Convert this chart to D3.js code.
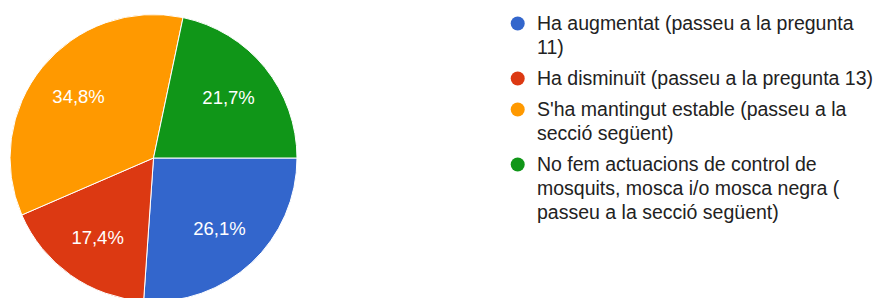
<!DOCTYPE html>
<html>
<head>
<meta charset="utf-8">
<script src="https://cdn.jsdelivr.net/npm/d3@7"></script>
<style>
  body { margin: 0; background: #fff; }
  svg text { font-family: "Liberation Sans", Arial, sans-serif; }
</style>
</head>
<body>
<svg id="chart" width="885" height="298"></svg>
<script>
var categories = [
  "Ha augmentat (passeu a la pregunta\n11)",
  "Ha disminuït (passeu a la pregunta 13)",
  "S'ha mantingut estable (passeu a la\nsecció següent)",
  "No fem actuacions de control de\nmosquits, mosca i/o mosca negra (\npasseu a la secció següent)"
];
var values = [26.1, 17.4, 34.8, 21.7];
var colors = ["#3366cc", "#dc3912", "#ff9900", "#109618"];

var svg = d3.select("svg#chart"),
  cx = 153.5, cy = 158, radius = 143.5;

var data = categories.map(function(c, i){ return {name: c, value: values[i], color: colors[i]}; });

// PIE
var pie = d3.pie()
  .sort(null)
  .value(function(d){ return d.value; })
  .startAngle(Math.PI / 2)
  .endAngle(Math.PI / 2 + 2 * Math.PI);

var arc = d3.arc().innerRadius(0).outerRadius(radius);
var labelArc = d3.arc().innerRadius(radius * 0.674).outerRadius(radius * 0.674);

var g = svg.append("g").attr("transform", "translate(" + cx + "," + cy + ")");

var slices = g.selectAll("g.slice")
  .data(pie(data))
  .enter().append("g").attr("class", "slice");

slices.append("path")
  .attr("d", arc)
  .attr("fill", function(d){ return d.data.color; })
  .attr("stroke", "#fff")
  .attr("stroke-width", 1);

var fmt = function(v){ return d3.format(".1f")(v).replace(".", ",") + "%"; };

slices.append("text")
  .attr("transform", function(d){ return "translate(" + labelArc.centroid(d) + ")"; })
  .attr("text-anchor", "middle")
  .attr("dy", "0.36em")
  .attr("fill", "#fff")
  .style("font-size", "18.5px")
  .text(function(d){ return fmt(d.data.value); });

// LEGEND
var lineH = 24, gap = 7, y0 = 30;
var legend = svg.append("g");
var yy = y0;
data.forEach(function(d){
  var lines = d.name.split("\n");
  legend.append("circle")
    .attr("cx", 517.7).attr("cy", yy - 6.5).attr("r", 7)
    .attr("fill", d.color);
  var t = legend.append("text")
    .attr("x", 537).attr("y", yy)
    .attr("fill", "#222")
    .style("font-size", "19.5px");
  lines.forEach(function(l, j){
    t.append("tspan").attr("x", 537).attr("y", yy + j * lineH).text(l);
  });
  yy += lines.length * lineH + gap;
});
</script>
</body>
</html>
